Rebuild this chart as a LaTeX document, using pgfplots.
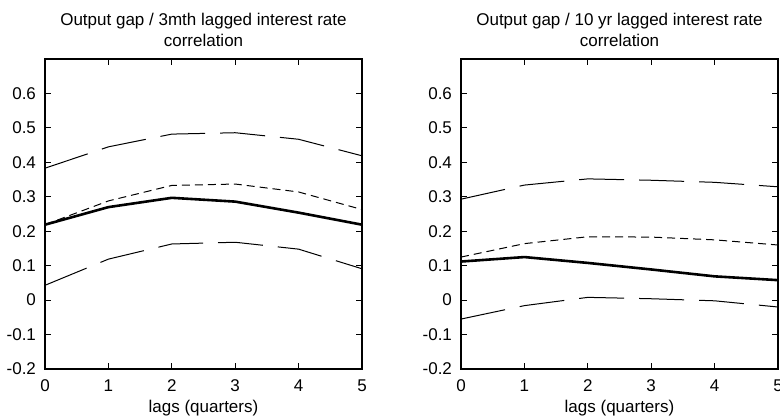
\documentclass[border=0pt]{standalone}
\usepackage{fontspec}
\setmainfont{Liberation Sans}
\usepackage{pgfplots}
\pgfplotsset{compat=1.18}

% values
\pgfplotstableset{col sep=space}
\usepackage{pgfplotstable}
\pgfplotstableread{
lag  est   mean  lo     hi
0    0.219 0.219 0.043  0.383
1    0.270 0.288 0.119  0.445
2    0.297 0.333 0.163  0.482
3    0.286 0.337 0.168  0.486
4    0.254 0.314 0.148  0.467
5    0.219 0.263 0.091  0.419
}\threemth
\pgfplotstableread{
lag  est   mean  lo     hi
0    0.112 0.125 -0.055 0.293
1    0.125 0.164 -0.016 0.334
2    0.108 0.184  0.008 0.352
3    0.089 0.183  0.004 0.348
4    0.069 0.175 -0.002 0.342
5    0.058 0.160 -0.020 0.329
}\tenyr

\pgfplotsset{
  corrpanel/.style={
    scale only axis,
    width=158.5pt, height=155pt,
    anchor=south west,
    xmin=0, xmax=5, ymin=-0.2, ymax=0.7,
    xtick={0,1,2,3,4,5},
    ytick={-0.2,-0.1,0,0.1,0.2,0.3,0.4,0.5,0.6},
    tick align=inside,
    major tick length=3pt,
    axis line style={line width=0.6pt},
    tick style={line width=0.5pt, black},
    font=\fontsize{8.5}{10.5}\selectfont,
    /pgf/number format/assume math mode=true,
    yticklabel style={/pgf/number format/fixed, /pgf/number format/precision=1, xshift=-1pt},
    xticklabel style={yshift=-2pt},
    xlabel={lags (quarters)},
    xlabel style={yshift=3pt},
    title style={align=center, at={(0.5,1)}, anchor=south, yshift=-3.5pt},
  },
  bandline/.style={black, line width=0.5pt, dash pattern=on 22.5pt off 7.5pt},
  meanline/.style={black, line width=0.5pt, dash pattern=on 4pt off 2.5pt},
  estline/.style={black, line width=1.3pt},
}

\begin{document}
\begin{tikzpicture}
\useasboundingbox (0,0) rectangle (390pt,209pt);

\begin{axis}[corrpanel, at={(22.5pt,24.5pt)},
  title={Output gap / 3mth lagged interest rate\\correlation}]
\addplot[bandline] table[x=lag, y=hi] {\threemth};
\addplot[meanline] table[x=lag, y=mean] {\threemth};
\addplot[estline] table[x=lag, y=est] {\threemth};
\addplot[bandline] table[x=lag, y=lo] {\threemth};
\end{axis}

\begin{axis}[corrpanel, at={(230.5pt,24.5pt)},
  title={Output gap / 10 yr lagged interest rate\\correlation}]
\addplot[bandline] table[x=lag, y=hi] {\tenyr};
\addplot[meanline] table[x=lag, y=mean] {\tenyr};
\addplot[estline] table[x=lag, y=est] {\tenyr};
\addplot[bandline] table[x=lag, y=lo] {\tenyr};
\end{axis}
\end{tikzpicture}
\end{document}
